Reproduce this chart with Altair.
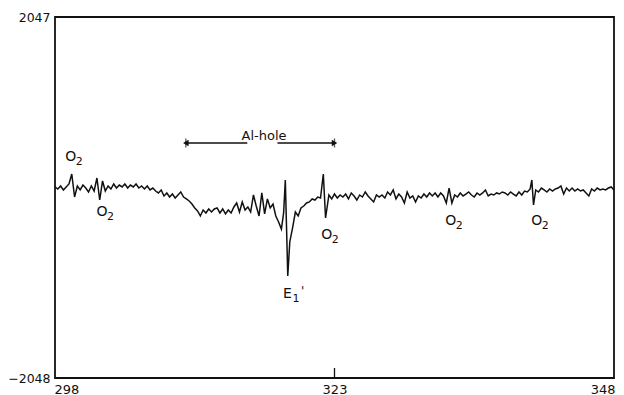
import altair as alt
import pandas as pd

# Magnetic field sweep (x) and digitised signal (counts, 12-bit range)
fields = [
    298.00, 298.25, 298.50, 298.75, 299.00, 299.25, 299.50, 299.75,
    300.00, 300.25, 300.50, 300.75, 301.00, 301.25, 301.50, 301.75,
    302.00, 302.25, 302.50, 302.75, 303.00, 303.25, 303.50, 303.75,
    304.00, 304.25, 304.50, 304.75, 305.00, 305.25, 305.50, 305.75,
    306.00, 306.25, 306.50, 306.75, 307.00, 307.25, 307.50, 307.75,
    308.00, 308.25, 308.50, 308.75, 309.00, 309.25, 309.50, 309.75,
    310.00, 310.25, 310.50, 310.75, 311.00, 311.25, 311.50, 311.75,
    312.00, 312.25, 312.50, 312.75, 313.00, 313.25, 313.50, 313.75,
    314.00, 314.25, 314.50, 314.75, 315.00, 315.25, 315.50, 315.75,
    316.00, 316.25, 316.50, 316.75, 317.00, 317.25, 317.50, 317.75,
    318.00, 318.25, 318.45, 318.60, 318.72, 318.82, 319.00, 319.25,
    319.50, 319.75, 320.00, 320.25, 320.50, 320.75, 321.00, 321.25,
    321.50, 321.75, 322.00, 322.20, 322.50, 322.75, 323.00, 323.25,
    323.50, 323.75, 324.00, 324.25, 324.50, 324.75, 325.00, 325.25,
    325.50, 325.75, 326.00, 326.25, 326.50, 326.75, 327.00, 327.25,
    327.50, 327.75, 328.00, 328.25, 328.50, 328.75, 329.00, 329.25,
    329.50, 329.75, 330.00, 330.25, 330.50, 330.75, 331.00, 331.25,
    331.50, 331.75, 332.00, 332.25, 332.50, 332.75, 333.00, 333.25,
    333.50, 333.75, 334.00, 334.25, 334.50, 334.75, 335.00, 335.25,
    335.50, 335.75, 336.00, 336.25, 336.50, 336.75, 337.00, 337.25,
    337.50, 337.75, 338.00, 338.25, 338.50, 338.75, 339.00, 339.25,
    339.50, 339.75, 340.00, 340.25, 340.50, 340.65, 340.80, 341.00,
    341.25, 341.50, 341.75, 342.00, 342.25, 342.50, 342.75, 343.00,
    343.25, 343.50, 343.75, 344.00, 344.25, 344.50, 344.75, 345.00,
    345.25, 345.50, 345.75, 346.00, 346.25, 346.50, 346.75, 347.00,
    347.25, 347.50, 347.75, 348.00,
]

signal = [
    119, 96, 130, 85, 119, 153, 266, 5,
    130, 85, 141, 107, 62, 130, 73, 221,
    -29, 187, 73, 130, 96, 153, 107, 141,
    119, 153, 107, 141, 119, 153, 107, 130,
    96, 130, 85, 107, 73, 51, 85, 17,
    51, 5, 39, -6, 28, 62, 5, -17,
    -40, -74, -119, -153, -210, -142, -176, -131,
    -165, -131, -119, -176, -131, -187, -142, -176,
    -108, -63, -165, -51, -142, -108, -165, 28,
    -97, -210, 51, -187, -17, -119, -74, -210,
    -278, -358, -176, 198, -392, -891, -505, -346,
    -165, -210, -119, -97, -63, -51, -17, -29,
    5, -6, 266, -233, 28, -17, 39, -6,
    28, 5, 39, -17, 51, 17, -29, 28,
    5, 62, 17, -17, -51, 28, 5, 28,
    -6, 62, 28, 85, -17, 39, 5, -63,
    62, -6, 17, -51, 17, -6, 39, 5,
    51, 17, 51, 5, 51, 17, -63, 107,
    -63, 28, 5, 51, 17, 39, 62, 28,
    5, 51, 28, 51, 85, 17, 39, 28,
    51, 39, 62, 51, 28, 62, 39, 17,
    62, 28, 73, 62, 96, 198, -85, 85,
    62, 107, 85, 62, 96, 73, 96, 107,
    130, 39, 107, 73, 107, 73, 96, 73,
    85, 51, 17, 96, 73, 107, 85, 96,
    85, 107, 119, 85,
]

x_ticks = [298, 323, 348]
y_ticks = [-2048, 2047]
inner_tick = [323]

# peak labels: main letter, subscript, optional prime
ann_main = ["O", "O", "O", "O", "O", "E"]
ann_sub = ["2", "2", "2", "2", "2", "1"]
ann_x = [299.4, 302.2, 322.3, 333.4, 341.1, 318.8]
ann_y = [460, -165, -425, -265, -265, -1095]
prime_x = [320.0]
prime_y = [-1060]

# Al-hole bracket
bracket_label = "Al-hole"
bracket_start = 309.7
bracket_end = 323.0
bracket_gap = [315.2, 317.9]
bracket_level = 618
bracket_label_x = 316.7
bracket_label_y = 700

FONT = "DejaVu Sans"
INK = "#111111"

xscale = alt.Scale(domain=[298, 348], nice=False, zero=False)
yscale = alt.Scale(domain=[-2048, 2047], nice=False, zero=False)

xaxis = alt.Axis(values=x_ticks, ticks=False, domain=False, grid=False, title=None,
                 labelFont=FONT, labelFontSize=13, labelColor=INK,
                 labelPadding=5, labelFlush=True, labelFlushOffset=1,
                 format="d")
yaxis = alt.Axis(values=y_ticks, ticks=False, domain=False, grid=False, title=None,
                 labelFont=FONT, labelFontSize=12.5, labelColor=INK,
                 labelPadding=5, format="d")

X = lambda f: alt.X(f, type="quantitative", scale=xscale, axis=xaxis)
Y = lambda f: alt.Y(f, type="quantitative", scale=yscale, axis=yaxis)

df = pd.DataFrame({"x": fields, "y": signal})
trace = alt.Chart(df).mark_line(color=INK, strokeWidth=1.5, interpolate="linear",
                                strokeJoin="miter").encode(x=X("x"), y=Y("y"))

tick = alt.Chart(pd.DataFrame({"x": inner_tick})).mark_rule(color=INK, strokeWidth=1.3).encode(
    x=X("x"), y=alt.value(361), y2=alt.value(351)
)

ann_df = pd.DataFrame({"x": ann_x, "y": ann_y, "t": ann_main, "s": ann_sub})
ann_main_layer = alt.Chart(ann_df).mark_text(font=FONT, fontSize=14, color=INK,
                                             align="center", baseline="middle").encode(
    x=X("x"), y=Y("y"), text="t:N"
)
ann_sub_layer = alt.Chart(ann_df).mark_text(font=FONT, fontSize=11, color=INK,
                                            align="left", baseline="middle", dx=5, dy=5).encode(
    x=X("x"), y=Y("y"), text="s:N"
)
prime_layer = alt.Chart(pd.DataFrame({"x": prime_x, "y": prime_y, "t": ["'"]})).mark_text(
    font=FONT, fontSize=12, color=INK, align="left", baseline="middle"
).encode(x=X("x"), y=Y("y"), text="t:N")

seg_df = pd.DataFrame({
    "x": [bracket_start, bracket_gap[1]],
    "x2": [bracket_gap[0], bracket_end],
    "y": [bracket_level, bracket_level],
})
segs = alt.Chart(seg_df).mark_rule(color=INK, strokeWidth=1.3).encode(
    x=X("x"), x2="x2:Q", y=Y("y")
)

ends_df = pd.DataFrame({"x": [bracket_start, bracket_end], "y": [bracket_level, bracket_level]})
endbars = alt.Chart(ends_df).mark_tick(color=INK, thickness=1.3, size=9, orient="vertical").encode(
    x=X("x"), y=Y("y")
)

heads_df = pd.DataFrame({
    "x": [bracket_start, bracket_end],
    "y": [bracket_level, bracket_level],
    "s": ["triangle-left", "triangle-right"],
    "dx": [5, -5],
})
heads = alt.Chart(heads_df).mark_point(filled=True, color=INK, size=40, opacity=1).encode(
    x=X("x"), y=Y("y"),
    shape=alt.Shape("s:N", scale=None, legend=None),
    xOffset=alt.XOffset("dx:Q", scale=None),
)

label = alt.Chart(pd.DataFrame({"x": [bracket_label_x], "y": [bracket_label_y], "t": [bracket_label]})).mark_text(
    font=FONT, fontSize=13, color=INK, align="center", baseline="middle"
).encode(x=X("x"), y=Y("y"), text="t:N")

chart = alt.layer(trace, tick, ann_main_layer, ann_sub_layer, prime_layer,
                  segs, endbars, heads, label).properties(
    width=559, height=361,
    background="white",
    autosize=alt.AutoSizeParams(type="none"),
    padding={"left": 47, "top": 9, "right": 2, "bottom": 22},
).configure_view(stroke=INK, strokeWidth=1.8)

chart.save("out.html", embed_options={"renderer": "svg", "actions": False})
